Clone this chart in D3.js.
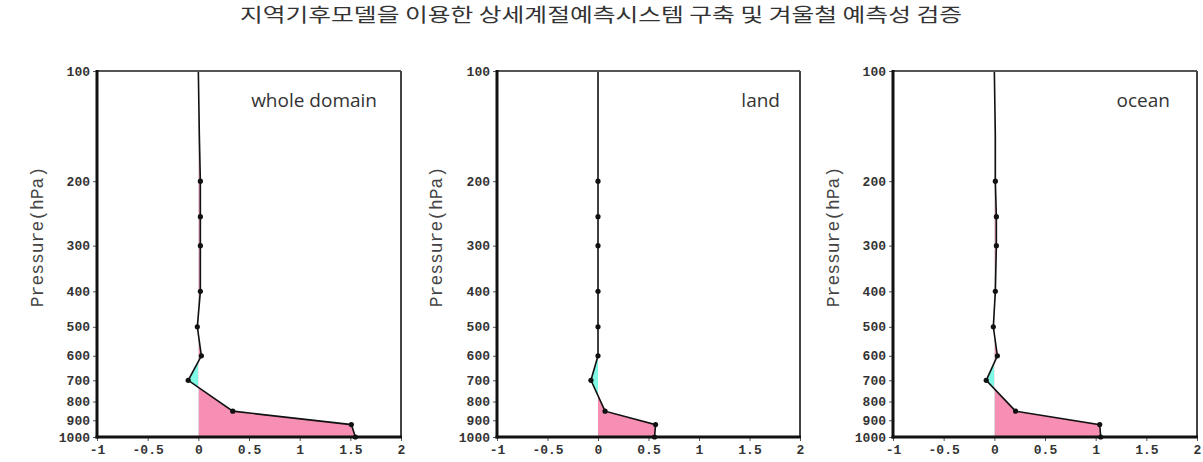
<!DOCTYPE html>
<html>
<head>
  <meta charset="utf-8">
  <title>Pressure profiles</title>
  <script src="https://d3js.org/d3.v7.min.js"></script>
  <style>
    body { margin: 0; background: #fff; }
    .tick text { font-family: 'Liberation Mono', 'DejaVu Sans Mono', monospace; font-size: 13px; fill: #333; font-weight: bold; }
  </style>
</head>
<body>
<script>
// pressure levels (hPa) and the profile for each region
var levels = [1000, 925, 850, 700, 600, 500, 400, 300, 250, 200, 150, 100];
var wholeVals = [1.55, 1.51, 0.34, -0.10, 0.03, -0.01, 0.02, 0.02, 0.02, 0.02, 0.01, 0.0];
var landVals = [0.56, 0.57, 0.07, -0.07, 0.0, 0.0, 0.0, 0.0, 0.0, 0.0, 0.0, 0.0];
var oceanVals = [1.05, 1.04, 0.21, -0.08, 0.03, -0.01, 0.01, 0.02, 0.02, 0.01, 0.01, 0.0];
var panelNames = ["whole domain", "land", "ocean"];
var xTicks = [-1, -0.5, 0, 0.5, 1, 1.5, 2];
var yTicks = [100, 200, 300, 400, 500, 600, 700, 800, 900, 1000];
var title = "지역기후모델을 이용한 상세계절예측시스템 구축 및 겨울철 예측성 검증";

var series = [wholeVals, landVals, oceanVals];

var W = 1203, H = 462;
var plotTop = 71, plotBottom = 437;
// left / right edge of each plot box, and where the panel name ends
var boxes = [
  { left: 97, right: 401, labelEnd: 377, ylab: 37 },
  { left: 497, right: 800, labelEnd: 780, ylab: 436 },
  { left: 893, right: 1197, labelEnd: 1170, ylab: 833 }
];

var svg = d3.select("body").append("svg")
  .attr("width", W)
  .attr("height", H);

// the original title font is wider than Noto, so stretch it to the same span
svg.append("text")
  .attr("x", 601)
  .attr("y", 22)
  .attr("text-anchor", "middle")
  .attr("textLength", 722)
  .attr("lengthAdjust", "spacingAndGlyphs")
  .style("font-family", "'Noto Sans CJK KR', sans-serif")
  .style("font-size", "19px")
  .style("fill", "#333")
  .text(title);

var y = d3.scaleLog()
  .domain([100, 1000])
  .range([plotTop, plotBottom]);

series.forEach(function (vals, i) {
  var b = boxes[i];
  var x = d3.scaleLinear()
    .domain([-1, 2])
    .range([b.left, b.right]);

  var pts = levels.map(function (p, k) { return [vals[k], p]; });
  var g = svg.append("g");

  // clip regions either side of zero
  var defs = svg.append("defs");
  defs.append("clipPath").attr("id", "pos" + i)
    .append("rect")
    .attr("x", x(0)).attr("y", plotTop)
    .attr("width", b.right - x(0)).attr("height", plotBottom - plotTop);
  defs.append("clipPath").attr("id", "neg" + i)
    .append("rect")
    .attr("x", b.left).attr("y", plotTop)
    .attr("width", x(0) - b.left).attr("height", plotBottom - plotTop);

  var area = d3.area()
    .y(function (d) { return y(d[1]); })
    .x0(x(0))
    .x1(function (d) { return x(d[0]); });

  g.append("path")
    .datum(pts)
    .attr("d", area)
    .attr("clip-path", "url(#pos" + i + ")")
    .style("fill", "#f78fb4");
  g.append("path")
    .datum(pts)
    .attr("d", area)
    .attr("clip-path", "url(#neg" + i + ")")
    .style("fill", "#7ff9e6");

  var line = d3.line()
    .x(function (d) { return x(d[0]); })
    .y(function (d) { return y(d[1]); });

  g.append("path")
    .datum(pts)
    .attr("d", line)
    .style("fill", "none")
    .style("stroke", "#111")
    .style("stroke-width", 1.6);

  g.selectAll("circle")
    .data(pts.filter(function (d) { return d[1] >= 200; }))
    .enter()
    .append("circle")
    .attr("cx", function (d) { return x(d[0]); })
    .attr("cy", function (d) { return y(d[1]); })
    .attr("r", 2.6)
    .style("fill", "#111");

  // axes
  var xAxis = g.append("g")
    .attr("transform", "translate(0," + plotBottom + ")")
    .call(d3.axisBottom(x).tickValues(xTicks).tickSize(4).tickPadding(4)
      .tickFormat(function (d) { return String(d); }));
  var yAxis = g.append("g")
    .attr("transform", "translate(" + b.left + ",0)")
    .call(d3.axisLeft(y).tickValues(yTicks).tickSize(4).tickPadding(3)
      .tickFormat(function (d) { return String(d); }));
  [xAxis, yAxis].forEach(function (a) {
    a.select(".domain").remove();
    a.selectAll(".tick line").style("stroke", "#555");
  });

  // box: thin grey top/right, heavy black left/bottom
  g.append("line")
    .attr("x1", b.left).attr("x2", b.right).attr("y1", plotTop).attr("y2", plotTop)
    .style("stroke", "#555").style("stroke-width", 2);
  g.append("line")
    .attr("x1", b.right).attr("x2", b.right).attr("y1", plotTop).attr("y2", plotBottom)
    .style("stroke", "#444").style("stroke-width", 2);
  g.append("line")
    .attr("x1", b.left).attr("x2", b.left).attr("y1", plotTop - 1).attr("y2", plotBottom + 1.5)
    .style("stroke", "#111").style("stroke-width", 3);
  g.append("line")
    .attr("x1", b.left - 1.5).attr("x2", b.right + 1).attr("y1", plotBottom).attr("y2", plotBottom)
    .style("stroke", "#111").style("stroke-width", 3);

  g.append("text")
    .attr("transform", "translate(" + b.ylab + "," + 237 + ") rotate(-90)")
    .attr("text-anchor", "middle")
    .attr("dy", "0.35em")
    .style("font-family", "'Liberation Mono', monospace")
    .style("font-size", "18px")
    .style("fill", "#444")
    .text("Pressure(hPa)");

  g.append("text")
    .attr("x", b.labelEnd)
    .attr("y", 107)
    .attr("text-anchor", "end")
    .style("font-family", "'Open Sans', sans-serif")
    .style("font-size", "19px")
    .style("fill", "#333")
    .text(panelNames[i]);
});
</script>
</body>
</html>
